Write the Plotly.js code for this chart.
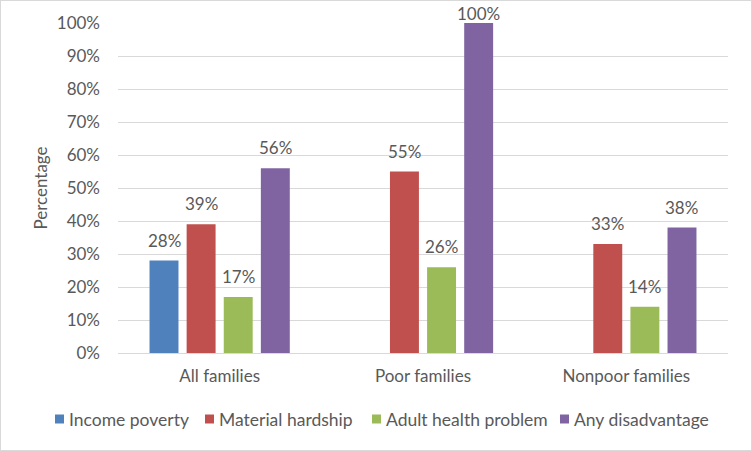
<!DOCTYPE html>
<html><head><meta charset="utf-8">
<script src="https://cdn.plot.ly/plotly-3.0.1.min.js"></script>
<style>html,body{margin:0;padding:0;background:#fff}#chart{width:752px;height:451px;box-sizing:border-box;border:1px solid #d9d9d9}</style>
</head><body><div id="chart"></div>
<script>
const categories = ["All families", "Poor families", "Nonpoor families"];
const seriesNames = ["Income poverty", "Material hardship", "Adult health problem", "Any disadvantage"];
const incomePoverty = [0.28, null, null];
const materialHardship = [0.39, 0.55, 0.33];
const adultHealth = [0.17, 0.26, 0.14];
const anyDisadvantage = [0.56, 1.00, 0.38];
const colors = ["#4F81BD", "#C0504D", "#9BBB59", "#8064A2"];
const tickVals = [0,0.1,0.2,0.3,0.4,0.5,0.6,0.7,0.8,0.9,1.0];

const allSeries = [incomePoverty, materialHardship, adultHealth, anyDisadvantage];
const fontFam = "Lato, 'Open Sans', sans-serif";
const txtColor = "#595959";
const W = 750, H = 449;
const M = {l: 117, r: 23, t: 22, b: 97};
const BARGAP = 0.27, BARGROUPGAP = 0.22;
const plotW = W - M.l - M.r, plotH = H - M.t - M.b;

const traces = allSeries.map((vals, i) => ({
  type: "bar",
  name: seriesNames[i],
  x: categories,
  y: vals,
  marker: {color: colors[i]},
  showlegend: false,
  hoverinfo: "none"
}));

// value labels: placed via the category axis + group slot offset derived from the bar layout
const catPx = plotW / categories.length;
const slotPx = catPx * (1 - BARGAP) / allSeries.length;
const annotations = [];
allSeries.forEach((vals, i) => {
  vals.forEach((v, j) => {
    if (v === null) return;
    annotations.push({
      x: categories[j], y: v, xref: "x", yref: "y",
      xshift: (i - (allSeries.length - 1) / 2) * slotPx,
      yshift: v >= 1 ? -3 : 8,
      text: Math.round(v * 100) + "%", showarrow: false,
      xanchor: "center", yanchor: "bottom",
      font: {size: 17, color: txtColor, family: fontFam}
    });
  });
});

// legend (drawn at the bottom like the original)
const legendSquareLeft = [54, 204, 371, 559];
const legendCenterY = 418;
const px2x = px => (px - M.l) / plotW;
const px2y = py => (H - M.b - py) / plotH;
const shapes = [];
seriesNames.forEach((name, i) => {
  const x0 = legendSquareLeft[i];
  shapes.push({type: "rect", xref: "paper", yref: "paper",
    x0: px2x(x0), x1: px2x(x0 + 9), y0: px2y(legendCenterY + 4.5), y1: px2y(legendCenterY - 4.5),
    fillcolor: colors[i], line: {width: 0}});
  annotations.push({xref: "paper", yref: "paper", x: px2x(x0 + 12), y: px2y(legendCenterY),
    xanchor: "left", yanchor: "middle", text: name, showarrow: false,
    font: {size: 17.5, color: txtColor, family: fontFam}});
});

const layout = {
  width: W, height: H,
  margin: M,
  paper_bgcolor: "#fff", plot_bgcolor: "#fff",
  font: {family: fontFam, color: txtColor, size: 17},
  bargap: BARGAP, bargroupgap: BARGROUPGAP,
  showlegend: false,
  annotations: annotations,
  shapes: shapes,
  xaxis: {tickfont: {size: 17, color: txtColor}, showline: true, linecolor: "#d9d9d9", ticks: "",
          ticklabelstandoff: 8, automargin: false},
  yaxis: {range: [0, 1.0], tickvals: tickVals, tickformat: ".0%", showgrid: true, gridcolor: "#d9d9d9",
          zeroline: false, tickfont: {size: 17, color: txtColor}, ticks: "", ticklen: 0,
          ticklabelstandoff: 17,
          title: {text: "Percentage", font: {size: 17, color: txtColor}, standoff: 4}, automargin: true}
};
Plotly.newPlot("chart", traces, layout, {displayModeBar: false, staticPlot: true});
</script></body></html>
